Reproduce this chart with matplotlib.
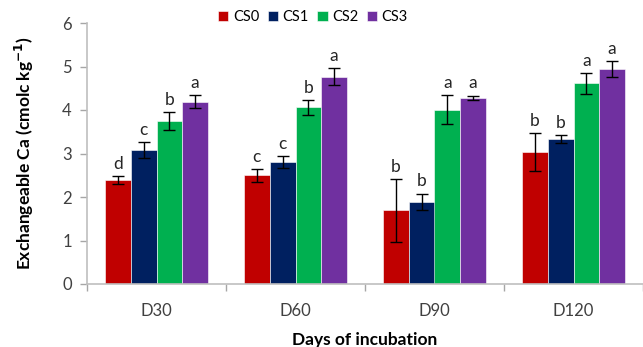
import numpy as np
import matplotlib
matplotlib.use("Agg")
import matplotlib.pyplot as plt

plt.rcParams['font.family'] = ['Lato', 'DejaVu Sans']

days = ["D30", "D60", "D90", "D120"]
series = ["CS0", "CS1", "CS2", "CS3"]
colors = ["#C00000", "#002060", "#00B050", "#7030A0"]

values = {
    "CS0": [2.40, 2.50, 1.69, 3.03],
    "CS1": [3.08, 2.80, 1.89, 3.33],
    "CS2": [3.75, 4.06, 4.01, 4.61],
    "CS3": [4.19, 4.77, 4.28, 4.95],
}
errors = {
    "CS0": [0.09, 0.15, 0.72, 0.43],
    "CS1": [0.18, 0.14, 0.19, 0.09],
    "CS2": [0.20, 0.165, 0.34, 0.24],
    "CS3": [0.145, 0.195, 0.05, 0.18],
}
letters = {
    "CS0": ["d", "c", "b", "b"],
    "CS1": ["c", "c", "b", "b"],
    "CS2": ["b", "b", "a", "a"],
    "CS3": ["a", "a", "a", "a"],
}

fig = plt.figure(figsize=(6.43, 3.47), dpi=100)
ax = fig.add_axes([87/643, 63/347, 556/643, 261/347])

x = np.arange(len(days))
bw = 0.185
for i, s in enumerate(series):
    pos = x + (i - 1.5) * bw
    ax.bar(pos, values[s], width=bw, color=colors[i], label=s,
           edgecolor='white', linewidth=0.4, zorder=2)
    ax.errorbar(pos, values[s], yerr=errors[s], fmt='none', ecolor='black',
                elinewidth=1, capsize=4, capthick=1, zorder=3)
    for p, v, e, t in zip(pos, values[s], errors[s], letters[s]):
        ax.annotate(t, (p, v + e), xytext=(0, 3), textcoords='offset points',
                    ha='center', va='bottom', fontsize=12.5, color='#262626')

ax.set_ylim(0, 6)
ax.set_xlim(-0.5, 3.5 - 2/139.5)
ax.set_yticks(range(0, 7))
ax.set_xticks(x)
ax.set_xticklabels(days)
ax.set_xticks(np.arange(-0.5, 3.6, 1), minor=True)
ax.tick_params(axis='x', which='major', length=0, pad=14, labelsize=12, labelcolor='#404040')
ax.tick_params(axis='x', which='minor', length=5, color='#A6A6A6', width=1)
ax.tick_params(axis='y', length=5, color='#A6A6A6', width=1, labelsize=12,
               labelcolor='#404040', pad=6)

for sp in ['top', 'right']:
    ax.spines[sp].set_visible(False)
for sp in ['left', 'bottom']:
    ax.spines[sp].set_color('#BFBFBF')
    ax.spines[sp].set_linewidth(1.2)

ax.set_ylabel("Exchangeable Ca (cmolc kg$^{\\mathbf{-1}}$)", fontsize=12.5,
              fontweight='bold', color='black', labelpad=19)
ax.set_xlabel("Days of incubation", fontsize=12.5, fontweight='bold',
              color='black', labelpad=9)

leg = fig.legend(loc='center', bbox_to_anchor=(313/643, 1 - 17/347), ncol=4,
                 frameon=False, fontsize=10.5, handlelength=0.7, handleheight=0.7,
                 handletextpad=0.3, columnspacing=0.6)

fig.savefig("out.png", dpi=100)
